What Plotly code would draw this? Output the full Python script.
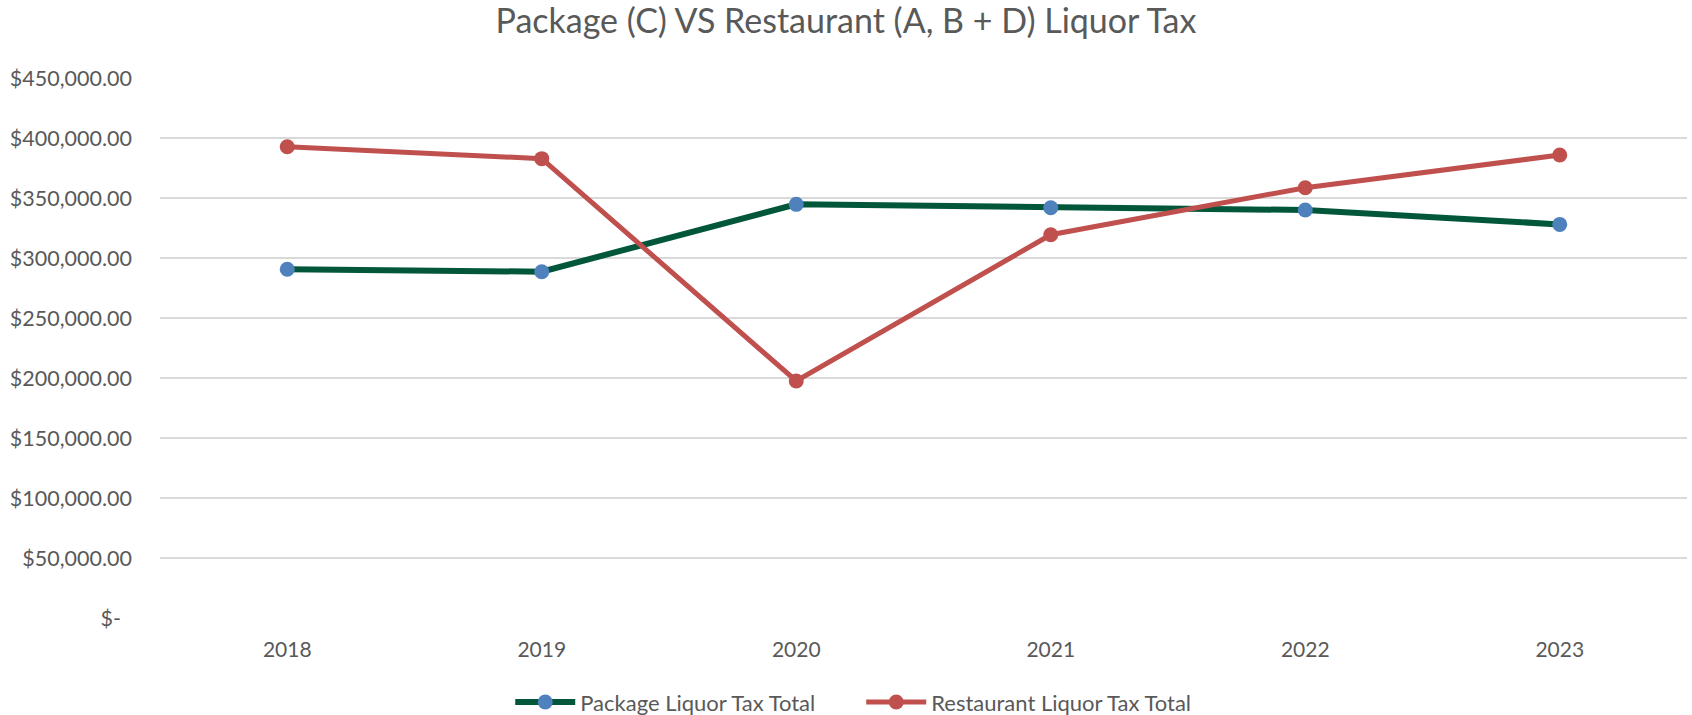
import plotly.graph_objects as go

# data
years = ['2018', '2019', '2020', '2021', '2022', '2023']
package_tax = [290600, 288600, 344700, 341900, 340000, 328000]
restaurant_tax = [392700, 382800, 197500, 319400, 358600, 385800]

y_ticks = [0, 50000, 100000, 150000, 200000, 250000, 300000, 350000, 400000, 450000]
y_ticktext = ['$-\u00a0\u00a0', '$50,000.00', '$100,000.00', '$150,000.00', '$200,000.00',
              '$250,000.00', '$300,000.00', '$350,000.00', '$400,000.00', '$450,000.00']

text_color = '#595959'
font_family = 'Lato, Open Sans, sans-serif'

fig = go.Figure()

fig.add_trace(go.Scatter(
    x=years, y=package_tax,
    name='Package Liquor Tax Total',
    mode='lines+markers',
    line=dict(color='#02573A', width=6),
    marker=dict(color='#4F81BD', size=15),
))

fig.add_trace(go.Scatter(
    x=years, y=restaurant_tax,
    name='Restaurant Liquor Tax Total',
    mode='lines+markers',
    line=dict(color='#C0504D', width=5),
    marker=dict(color='#C0504D', size=15),
))

fig.update_layout(
    width=1692,
    height=715,
    margin=dict(l=160, r=5, t=78, b=97),
    paper_bgcolor='white',
    plot_bgcolor='white',
    font=dict(family=font_family, color=text_color, size=20),
    title=dict(
        text='Package (C) VS Restaurant (A, B + D) Liquor Tax',
        x=0.5, xanchor='center',
        y=0.97, yanchor='middle',
        font=dict(size=34, color=text_color),
    ),
    xaxis=dict(
        type='category',
        range=[-0.5, 5.5],
        showgrid=False,
        zeroline=False,
        showline=False,
        ticks='',
        ticklabelstandoff=17,
        tickfont=dict(size=21),
    ),
    yaxis=dict(
        range=[0, 450000],
        tickvals=y_ticks,
        ticktext=y_ticktext,
        showgrid=True,
        gridcolor='#D9D9D9',
        gridwidth=2,
        zeroline=False,
        showline=False,
        ticks='',
        ticklabelstandoff=27,
        tickfont=dict(size=21.5),
    ),
    legend=dict(
        orientation='h',
        xref='container', yref='container',
        x=0.509, xanchor='center',
        y=0.018, yanchor='middle',
        font=dict(size=22),
        itemwidth=60,
        entrywidth=276,
        traceorder='normal',
    ),
)

# drop the default page margin so the figure sits at the window's corner
fig.write_html("out.html", config={'displayModeBar': False},
               post_script="document.body.style.margin = '0px';")
